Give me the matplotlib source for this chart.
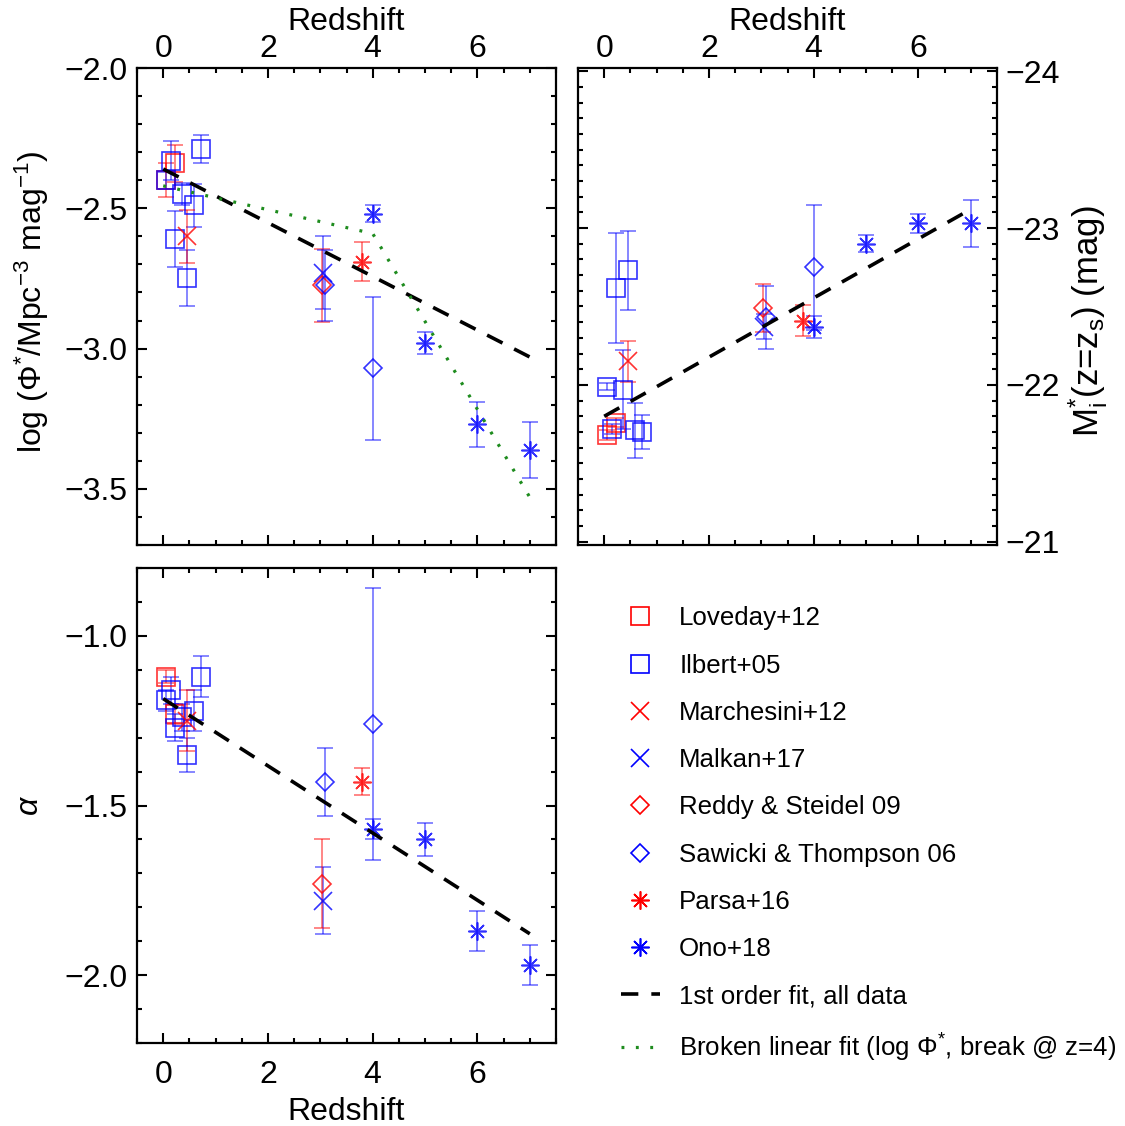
import matplotlib
matplotlib.use('Agg')
import matplotlib.pyplot as plt
from matplotlib.ticker import MultipleLocator, FuncFormatter
from matplotlib.lines import Line2D

plt.rcParams['font.family'] = ['Liberation Sans', 'DejaVu Sans']
plt.rcParams['mathtext.fontset'] = 'custom'
plt.rcParams['mathtext.rm'] = 'Liberation Sans'
plt.rcParams['mathtext.it'] = 'Liberation Sans:italic'
plt.rcParams['mathtext.bf'] = 'Liberation Sans:bold'

# ---------------- data ----------------
loveday_z = [0.05, 0.22]
loveday_phi = [-2.40, -2.34]
loveday_phi_err = [0.06, 0.065]
loveday_M = [-21.68, -21.76]
loveday_M_err = [0.03, 0.03]
loveday_alpha = [-1.12, -1.23]
loveday_alpha_err = [0.02, 0.03]

ilbert_z = [0.05, 0.14, 0.23, 0.35, 0.45, 0.58, 0.72]
ilbert_phi = [-2.40, -2.33, -2.61, -2.45, -2.75, -2.49, -2.29]
ilbert_phi_err = [0.03, 0.07, 0.10, 0.04, 0.10, 0.075, 0.05]
ilbert_M = [-21.99, -21.72, -22.62, -21.97, -22.73, -21.71, -21.70]
ilbert_M_err = [0.02, 0.03, 0.35, 0.25, 0.25, 0.175, 0.11]
ilbert_alpha = [-1.19, -1.16, -1.27, -1.24, -1.35, -1.22, -1.12]
ilbert_alpha_err = [0.03, 0.04, 0.04, 0.04, 0.05, 0.06, 0.06]

marchesini_z = [0.45]
marchesini_phi = [-2.60]
marchesini_phi_err = [0.095]
marchesini_M = [-22.15]
marchesini_M_err = [0.13]
marchesini_alpha = [-1.25]
marchesini_alpha_err = [0.09]

malkan_z = [3.05]
malkan_phi = [-2.73]
malkan_phi_err = [0.13]
malkan_M = [-22.37]
malkan_M_err = [0.08]
malkan_alpha = [-1.78]
malkan_alpha_err = [0.10]

reddy_z = [3.04]
reddy_phi = [-2.775]
reddy_phi_err = [0.13]
reddy_M = [-22.49]
reddy_M_err = [0.155]
reddy_alpha = [-1.73]
reddy_alpha_err = [0.13]

sawicki_z = [3.08, 4.0]
sawicki_phi = [-2.775, -3.07]
sawicki_phi_err = [0.125, 0.255]
sawicki_M = [-22.43, -22.75]
sawicki_M_err = [0.20, 0.40]
sawicki_alpha = [-1.43, -1.26]
sawicki_alpha_err = [0.10, 0.40]

parsa_z = [3.8]
parsa_phi = [-2.69]
parsa_phi_err = [0.07]
parsa_M = [-22.41]
parsa_M_err = [0.10]
parsa_alpha = [-1.43]
parsa_alpha_err = [0.04]

ono_z = [4.0, 5.0, 6.0, 7.0]
ono_phi = [-2.52, -2.98, -3.27, -3.36]
ono_phi_err = [0.03, 0.04, 0.08, 0.10]
ono_M = [-22.37, -22.90, -23.03, -23.03]
ono_M_err = [0.07, 0.055, 0.06, 0.15]
ono_alpha = [-1.57, -1.60, -1.87, -1.97]
ono_alpha_err = [0.03, 0.05, 0.06, 0.06]

# fits
fit_z = [0.0, 7.0]
fit_phi = [-2.36, -3.03]
fit_M = [-21.80, -23.12]
fit_alpha = [-1.185, -1.878]
broken_z = [0.0, 4.0, 7.0]
broken_phi = [-2.42, -2.59, -3.53]

labels = ['Loveday+12', 'Ilbert+05', 'Marchesini+12', 'Malkan+17',
          'Reddy & Steidel 09', 'Sawicki & Thompson 06', 'Parsa+16', 'Ono+18',
          '1st order fit, all data',
          r'Broken linear fit (log $\Phi^{*}$, break @ z=4)']

# ---------------- style ----------------
RED = '#FF0000'
BLUE = '#0000FF'
GREEN = '#1E8C1E'
AST = (8, 2, 0)

series = [
    ('Loveday', loveday_z, loveday_phi, loveday_phi_err, loveday_M, loveday_M_err, loveday_alpha, loveday_alpha_err, RED, 's', 12.5),
    ('Ilbert', ilbert_z, ilbert_phi, ilbert_phi_err, ilbert_M, ilbert_M_err, ilbert_alpha, ilbert_alpha_err, BLUE, 's', 12.5),
    ('Marchesini', marchesini_z, marchesini_phi, marchesini_phi_err, marchesini_M, marchesini_M_err, marchesini_alpha, marchesini_alpha_err, RED, 'x', 13),
    ('Malkan', malkan_z, malkan_phi, malkan_phi_err, malkan_M, malkan_M_err, malkan_alpha, malkan_alpha_err, BLUE, 'x', 13),
    ('Reddy', reddy_z, reddy_phi, reddy_phi_err, reddy_M, reddy_M_err, reddy_alpha, reddy_alpha_err, RED, 'D', 8.7),
    ('Sawicki', sawicki_z, sawicki_phi, sawicki_phi_err, sawicki_M, sawicki_M_err, sawicki_alpha, sawicki_alpha_err, BLUE, 'D', 8.7),
    ('Parsa', parsa_z, parsa_phi, parsa_phi_err, parsa_M, parsa_M_err, parsa_alpha, parsa_alpha_err, RED, AST, 13),
    ('Ono', ono_z, ono_phi, ono_phi_err, ono_M, ono_M_err, ono_alpha, ono_alpha_err, BLUE, AST, 13),
]

TICK_FS = 23
LABEL_FS = 23
LEG_FS = 18.6

fig = plt.figure(figsize=(11.25, 11.26), dpi=100)
ax1 = fig.add_axes([0.1218, 0.5160, 0.3724, 0.4236])
ax2 = fig.add_axes([0.5138, 0.5160, 0.3724, 0.4236])
ax3 = fig.add_axes([0.1218, 0.0737, 0.3724, 0.4218])


def draw(ax, z, y, e, color, marker, ms):
    ax.errorbar(z, y, yerr=e, fmt='none', ecolor=color, elinewidth=1.1,
                capsize=6, capthick=1.1, alpha=0.6, zorder=2)
    ax.plot(z, y, linestyle='none', marker=marker, ms=ms, mfc='none',
            mec=color, mew=1.2, alpha=0.8, zorder=3)


for name, z, ph, phe, M, Me, al, ale, c, m, ms in series:
    draw(ax1, z, ph, phe, c, m, ms)
    draw(ax2, z, M, Me, c, m, ms)
    draw(ax3, z, al, ale, c, m, ms)

dash_kw = dict(color='black', lw=2.6, dashes=(4.8, 3.6), zorder=4)
dot_ls = (0, (0.9, 3.6))
ax1.plot(fit_z, fit_phi, **dash_kw)
ax1.plot(broken_z, broken_phi, color=GREEN, lw=2.3, linestyle=dot_ls, zorder=4)
ax2.plot(fit_z, fit_M, **dash_kw)
ax3.plot(fit_z, fit_alpha, **dash_kw)


def minus_fmt(fmt):
    return FuncFormatter(lambda v, p: (fmt % v).replace('-', '\u2212'))


for ax in (ax1, ax2, ax3):
    ax.set_xlim(-0.5, 7.5)
    ax.xaxis.set_major_locator(MultipleLocator(2))
    ax.xaxis.set_minor_locator(MultipleLocator(0.5))
    ax.tick_params(which='both', direction='in', top=True, bottom=True,
                   left=True, right=True, labelsize=TICK_FS, width=1.5)
    ax.tick_params(which='major', length=7)
    ax.tick_params(which='minor', length=3.5)
    for s in ax.spines.values():
        s.set_linewidth(1.6)
    ax.xaxis.set_major_formatter(minus_fmt('%d'))

# top-left
ax1.set_ylim(-3.7, -2.0)
ax1.yaxis.set_major_locator(MultipleLocator(0.5))
ax1.yaxis.set_minor_locator(MultipleLocator(0.1))
ax1.yaxis.set_major_formatter(minus_fmt('%.1f'))
ax1.tick_params(axis='x', labeltop=True, labelbottom=False, pad=3)
ax1.tick_params(axis='y', pad=7)
ax1.xaxis.set_label_position('top')
ax1.set_xlabel('Redshift', fontsize=LABEL_FS, labelpad=3)
ax1.set_ylabel(r'log ($\Phi^{*}$/Mpc$^{-3}$ mag$^{-1}$)', fontsize=LABEL_FS)
ax1.yaxis.set_label_coords(-0.205, 0.51)

# top-right
ax2.set_ylim(-20.98, -24.02)
ax2.yaxis.set_major_locator(MultipleLocator(1))
ax2.yaxis.set_minor_locator(MultipleLocator(0.1))
ax2.yaxis.set_major_formatter(minus_fmt('%d'))
ax2.tick_params(axis='x', labeltop=True, labelbottom=False, pad=3)
ax2.tick_params(axis='y', labelleft=False, labelright=True, pad=6)
ax2.xaxis.set_label_position('top')
ax2.set_xlabel('Redshift', fontsize=LABEL_FS, labelpad=3)
ax2.yaxis.set_label_position('right')
ax2.set_ylabel(r'M$_{\rm i}^{*}$(z=z$_{\rm s}$) (mag)', fontsize=25)
ax2.yaxis.set_label_coords(1.165, 0.47)

# bottom-left
ax3.set_ylim(-2.2, -0.8)
ax3.yaxis.set_major_locator(MultipleLocator(0.5))
ax3.yaxis.set_minor_locator(MultipleLocator(0.1))
ax3.yaxis.set_major_formatter(minus_fmt('%.1f'))
ax3.tick_params(axis='x', pad=12)
ax3.tick_params(axis='y', pad=7)
ax3.set_xlabel('Redshift', fontsize=LABEL_FS, labelpad=5)
ax3.set_ylabel(r'$\alpha$', fontsize=LABEL_FS, labelpad=14)

# legend
handles = []
for name, z, ph, phe, M, Me, al, ale, c, m, ms in series:
    handles.append(Line2D([], [], linestyle='none', marker=m, ms=ms, mfc='none', mec=c, mew=1.2))
handles.append(Line2D([], [], color='black', lw=2.6, dashes=(4.8, 3.6)))
handles.append(Line2D([], [], color=GREEN, lw=2.3, linestyle=dot_ls))
fig.legend(handles, labels, loc='upper left', bbox_to_anchor=(0.552, 0.4615),
           frameon=False, fontsize=LEG_FS, handlelength=1.5, handletextpad=0.75,
           labelspacing=0.9, borderaxespad=0, borderpad=0)

fig.savefig('out.png', dpi=100)
